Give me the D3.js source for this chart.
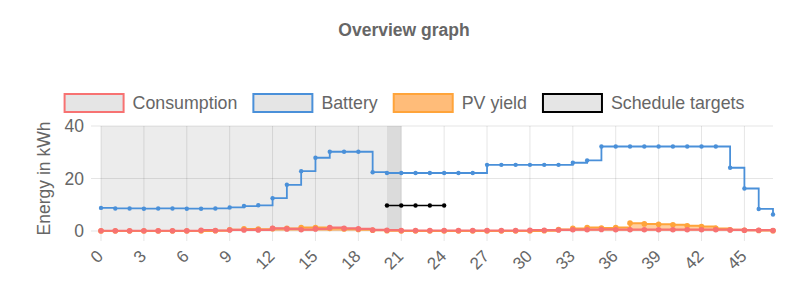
<!DOCTYPE html>
<html>
<head>
<meta charset="utf-8">
<script src="https://cdn.jsdelivr.net/npm/d3@7"></script>
<style>
  body { margin: 0; background: #fff; }
  svg { display: block; font-family: "Liberation Sans", Arial, Helvetica, sans-serif; }
</style>
</head>
<body>
<svg id="chart" width="808" height="299"></svg>
<script>
// slot index 0..47
const slots = [0,1,2,3,4,5,6,7,8,9,10,11,12,13,14,15,16,17,18,19,20,21,22,23,
               24,25,26,27,28,29,30,31,32,33,34,35,36,37,38,39,40,41,42,43,44,45,46,47];
const tickLabels = [0,3,6,9,12,15,18,21,24,27,30,33,36,39,42,45];
const yTicks = [0,20,40];

const consumption = [0.1,0.1,0.1,0.1,0.1,0.1,0.1,0.3,0.2,0.4,0.4,0.4,
                     1.0,0.8,0.5,0.8,1.3,1.0,0.8,0.4,0.3,0.2,0.2,0.2,
                     0.2,0.2,0.2,0.2,0.2,0.2,0.3,0.3,0.4,0.5,0.5,0.6,
                     0.5,0.5,0.5,0.5,0.5,0.5,0.5,0.5,0.4,0.3,0.3,0.2];
const battery = [8.8,8.6,8.6,8.5,8.6,8.6,8.5,8.5,8.6,9.0,9.5,9.8,
                 12.5,17.6,22.8,27.9,30.2,30.2,30.2,22.4,22.1,22.1,22.1,22.1,
                 22.1,22.1,22.1,25.2,25.2,25.2,25.2,25.2,25.2,26.0,26.9,32.2,
                 32.2,32.2,32.2,32.2,32.2,32.2,32.2,32.2,24.1,16.2,8.4,6.3];
const pvYield = [0,0,0,0,0,0,0,0,0.1,0.5,0.8,0.7,
                 0.9,1.0,1.3,1.3,1.0,0.8,0.6,0.3,0.1,0,0,0,
                 0,0,0,0,0,0,0,0.1,0.6,1.0,1.3,1.1,
                 1.3,3.0,2.7,2.6,2.4,2.0,1.7,1.0,0.5,0.3,0.2,0.1];
const scheduleTargets = [null,null,null,null,null,null,null,null,null,null,null,null,
                         null,null,null,null,null,null,null,null,9.7,9.7,9.7,9.7,
                         9.7,null,null,null,null,null,null,null,null,null,null,null,
                         null,null,null,null,null,null,null,null,null,null,null,null];
const pastEnd = 20;     // slots before this are shaded
const currentSlot = 20; // darker band

const svg = d3.select("#chart");
const margin = { top: 126, right: 35, bottom: 68, left: 101 };
const width = 808 - margin.left - margin.right;
const height = 299 - margin.top - margin.bottom;
const textColor = "#666";
const gridColor = "rgba(0,0,0,0.1)";

const x = d3.scaleLinear().domain([0, slots.length - 1]).range([0, width]);
const y = d3.scaleLinear().domain([0, 40]).range([height, 0]);

// title
svg.append("text")
    .attr("x", 404).attr("y", 36)
    .attr("text-anchor", "middle")
    .attr("fill", textColor)
    .attr("font-size", 17.5).attr("font-weight", "bold")
    .text("Overview graph");

// legend
const series = [
    { name: "Consumption", stroke: "#f77272", fill: "rgba(0,0,0,0.1)" },
    { name: "Battery", stroke: "#4a90d9", fill: "rgba(0,0,0,0.1)" },
    { name: "PV yield", stroke: "#ffa43a", fill: "rgba(255,159,64,0.7)" },
    { name: "Schedule targets", stroke: "#000", fill: "rgba(0,0,0,0.1)" }
];
const legend = svg.append("g");
let lx = 0;
series.forEach(s => {
    const item = legend.append("g").attr("transform", `translate(${lx},0)`);
    item.append("rect")
        .attr("x", 1).attr("y", 94).attr("width", 59).attr("height", 18)
        .attr("fill", s.fill).attr("stroke", s.stroke).attr("stroke-width", 2);
    const t = item.append("text")
        .attr("x", 69).attr("y", 108.5)
        .attr("fill", textColor).attr("font-size", 17.8)
        .text(s.name);
    lx += 69 + t.node().getComputedTextLength() + 15;
});
const legendW = lx - 15;
legend.attr("transform", `translate(${404 - legendW / 2},0)`);

const g = svg.append("g").attr("transform", `translate(${margin.left},${margin.top})`);

// shaded past / current slot
g.append("rect")
    .attr("x", x(0)).attr("y", 0)
    .attr("width", x(pastEnd) - x(0)).attr("height", height)
    .attr("fill", "rgba(0,0,0,0.075)");
g.append("rect")
    .attr("x", x(currentSlot)).attr("y", 0)
    .attr("width", x(currentSlot + 1) - x(currentSlot)).attr("height", height)
    .attr("fill", "rgba(0,0,0,0.14)");

// grid
g.selectAll("line.vgrid").data(tickLabels).enter().append("line")
    .attr("x1", d => x(d)).attr("x2", d => x(d))
    .attr("y1", 0).attr("y2", height + 10)
    .attr("stroke", gridColor);
g.selectAll("line.hgrid").data(yTicks).enter().append("line")
    .attr("x1", -10).attr("x2", width)
    .attr("y1", d => y(d)).attr("y2", d => y(d))
    .attr("stroke", gridColor);

// y axis labels
g.selectAll("text.ytick").data(yTicks).enter().append("text")
    .attr("x", -17).attr("y", d => y(d)).attr("dy", "0.35em")
    .attr("text-anchor", "end")
    .attr("fill", textColor).attr("font-size", 17.5)
    .text(d => d);
svg.append("text")
    .attr("transform", `translate(50,${margin.top + height / 2}) rotate(-90)`)
    .attr("text-anchor", "middle")
    .attr("fill", textColor).attr("font-size", 17.5)
    .text("Energy in kWh");

// x axis labels
g.selectAll("text.xtick").data(tickLabels).enter().append("text")
    .attr("transform", d => `translate(${x(d) - 1},${height + 22}) rotate(-45)`)
    .attr("dy", "0.35em")
    .attr("text-anchor", "end")
    .attr("fill", textColor).attr("font-size", 17)
    .text(d => d);

const step = d3.line()
    .defined(d => d[1] != null)
    .x(d => x(d[0])).y(d => y(d[1]))
    .curve(d3.curveStepAfter);
const straight = d3.line()
    .defined(d => d[1] != null)
    .x(d => x(d[0])).y(d => y(d[1]));
const pvArea = d3.area()
    .x(d => x(d[0])).y0(y(0)).y1(d => y(d[1]))
    .curve(d3.curveStepAfter);

function pairs(values) { return slots.map((s, i) => [s, values[i]]); }

function drawPoints(values, color, r) {
    g.append("g").selectAll("circle")
        .data(pairs(values).filter(d => d[1] != null))
        .enter().append("circle")
        .attr("cx", d => x(d[0])).attr("cy", d => y(d[1]))
        .attr("r", r).attr("fill", color);
}

// schedule targets (bottom-most)
g.append("path").attr("d", straight(pairs(scheduleTargets)))
    .attr("fill", "none").attr("stroke", "#000").attr("stroke-width", 1.5);
drawPoints(scheduleTargets, "#000", 2.2);

// PV yield
g.append("path").attr("d", pvArea(pairs(pvYield)))
    .attr("fill", "rgba(255,159,64,0.5)");
g.append("path").attr("d", step(pairs(pvYield)))
    .attr("fill", "none").attr("stroke", "#ffa43a").attr("stroke-width", 2);
drawPoints(pvYield, "#ffa43a", 2.8);

// battery
g.append("path").attr("d", step(pairs(battery)))
    .attr("fill", "none").attr("stroke", "#4a90d9").attr("stroke-width", 1.8);
drawPoints(battery, "#4a90d9", 2.2);

// consumption (top-most)
g.append("path").attr("d", step(pairs(consumption)))
    .attr("fill", "none").attr("stroke", "#f77272").attr("stroke-width", 2.2);
drawPoints(consumption, "#f77272", 2.8);
</script>
</body>
</html>
